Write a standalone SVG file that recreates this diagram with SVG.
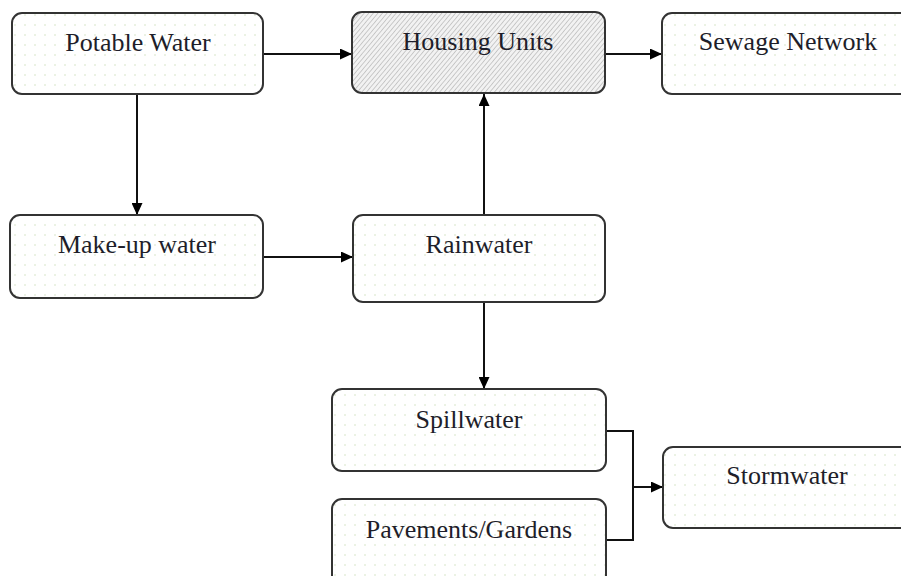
<svg xmlns="http://www.w3.org/2000/svg" width="901" height="576" viewBox="0 0 901 576">
<defs>
<pattern id="dots" width="10" height="10" patternUnits="userSpaceOnUse">
<rect width="10" height="10" fill="#ffffff"/>
<circle cx="5" cy="5" r="0.7" fill="#c8dcb4"/>
</pattern>
<pattern id="hatch" width="3.5" height="3.5" patternUnits="userSpaceOnUse" patternTransform="rotate(40)">
<rect width="3.5" height="3.5" fill="#f2f2f2"/>
<line x1="0" y1="0" x2="0" y2="3.5" stroke="#a8a8a8" stroke-width="1.1"/>
</pattern>
<marker id="arr" markerWidth="12" markerHeight="11" refX="12" refY="5.5" orient="auto" markerUnits="userSpaceOnUse">
<path d="M0,0 L12,5.5 L0,11 Z" fill="#000"/>
</marker>
</defs>
<style>
.box{fill:url(#dots);stroke:#333;stroke-width:2}
.hbox{fill:url(#hatch);stroke:#333;stroke-width:2}
.lbl{font-family:"Liberation Serif","DejaVu Serif",serif;font-size:26px;fill:#1e1e2a;text-anchor:middle}
.con{fill:none;stroke:#111;stroke-width:2}
</style>
<rect width="901" height="576" fill="#ffffff"/>
<g id="connectors">
<path class="con" d="M263,54 L352,54" marker-end="url(#arr)"/>
<path class="con" d="M605,54 L662,54" marker-end="url(#arr)"/>
<path class="con" d="M137,95 L137,215" marker-end="url(#arr)"/>
<path class="con" d="M263,257 L353,257" marker-end="url(#arr)"/>
<path class="con" d="M484,215 L484,94" marker-end="url(#arr)"/>
<path class="con" d="M484,302 L484,389" marker-end="url(#arr)"/>
<path class="con" d="M606,431 L633,431 L633,540 L606,540"/>
<path class="con" d="M633,487 L663,487" marker-end="url(#arr)"/>
</g>
<g id="potable">
<rect class="box" x="12" y="13" width="251" height="81" rx="10"/>
<text class="lbl" x="138" y="51">Potable  Water</text>
</g>
<g id="housing">
<rect class="hbox" x="352" y="12" width="253" height="81" rx="10"/>
<text class="lbl" x="478" y="50">Housing Units</text>
</g>
<g id="sewage">
<rect class="box" x="662" y="13" width="260" height="81" rx="10"/>
<text class="lbl" x="788" y="50">Sewage Network</text>
</g>
<g id="makeup">
<rect class="box" x="10" y="215" width="253" height="83" rx="10"/>
<text class="lbl" x="137" y="253">Make-up water</text>
</g>
<g id="rainwater">
<rect class="box" x="353" y="215" width="252" height="87" rx="10"/>
<text class="lbl" x="479" y="253">Rainwater</text>
</g>
<g id="spillwater">
<rect class="box" x="332" y="389" width="274" height="82" rx="10"/>
<text class="lbl" x="469" y="428">Spillwater</text>
</g>
<g id="pavements">
<rect class="box" x="332" y="499" width="274" height="90" rx="10"/>
<text class="lbl" x="469" y="538">Pavements/Gardens</text>
</g>
<g id="stormwater">
<rect class="box" x="663" y="447" width="260" height="81" rx="10"/>
<text class="lbl" x="787" y="484">Stormwater</text>
</g>
</svg>
